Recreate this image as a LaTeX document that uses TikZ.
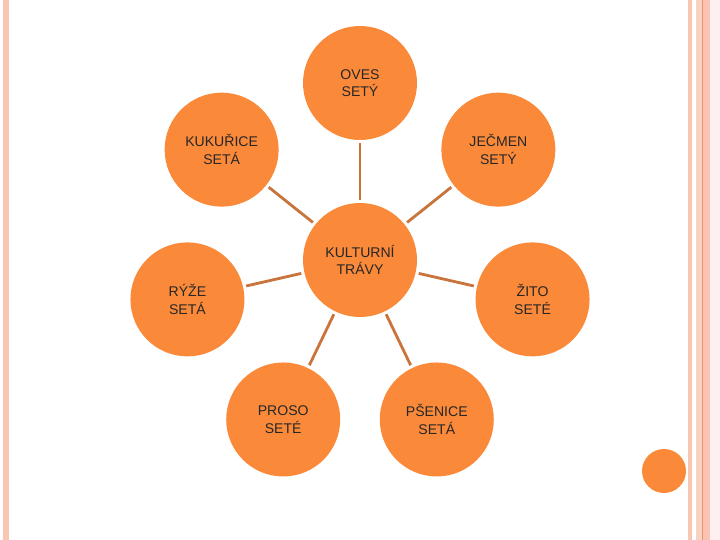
\documentclass[tikz,border=0pt]{standalone}
\usepackage{fontspec}
\setmainfont{Liberation Sans}
\usepackage{xcolor}
\usetikzlibrary{positioning}
\definecolor{myorange}{HTML}{FA8A3A}
\definecolor{mybrown}{HTML}{C8743C}
\definecolor{mysalmon}{HTML}{F9C6B2}
\definecolor{mypink}{HTML}{FCC4B0}
\definecolor{myline}{HTML}{E3956F}
\tikzstyle{crop} = [circle, minimum size=3.42cm, inner sep=0pt, align=center, fill=myorange, text=black!85, font=\fontsize{12}{15}\selectfont]
\tikzstyle{link} = [draw=mybrown, line width=2.4pt, shorten >=0.09cm, shorten <=0.09cm]

\begin{document}
\begin{tikzpicture}
    \useasboundingbox (-10.8,-8.4) rectangle (10.8,7.8);
    % page border
    \fill[mysalmon] (-10.71,-8.4) rectangle (-10.53,7.8);
    \fill[mysalmon] (9.84,-8.4) rectangle (9.96,7.8);
    \fill[mysalmon!80] (10.08,-8.4) rectangle (10.26,7.8);
    \fill[myline] (10.26,-8.4) rectangle (10.29,7.8);
    \fill[mypink] (10.29,-8.4) rectangle (10.8,7.8);
    \fill[mypink!90!magenta!20] (10.5,-8.4) rectangle (10.8,7.8);
    \fill[myorange] (9.12,-6.33) circle (0.66);
    % crops
    \node (kult) [crop] {KULTURNÍ\\TRÁVY};
    \node (oves) [crop] at (90:5.31) {OVES\\SETÝ};
    \node (kuk) [crop] at (141.43:5.31) {KUKUŘICE\\SETÁ};
    \node (ryze) [crop] at (192.86:5.31) {RÝŽE\\SETÁ};
    \node (proso) [crop] at (244.29:5.31) {PROSO\\SETÉ};
    \node (psen) [crop] at (295.71:5.31) {PŠENICE\\SETÁ};
    \node (zito) [crop] at (347.14:5.31) {ŽITO\\SETÉ};
    \node (jecm) [crop] at (38.57:5.31) {JEČMEN\\SETÝ};
    \draw [link] (kult) -- (oves);
    \draw [link] (kult) -- (kuk);
    \draw [link] (kult) -- (ryze);
    \draw [link] (kult) -- (proso);
    \draw [link] (kult) -- (psen);
    \draw [link] (kult) -- (zito);
    \draw [link] (kult) -- (jecm);
\end{tikzpicture}
\end{document}
